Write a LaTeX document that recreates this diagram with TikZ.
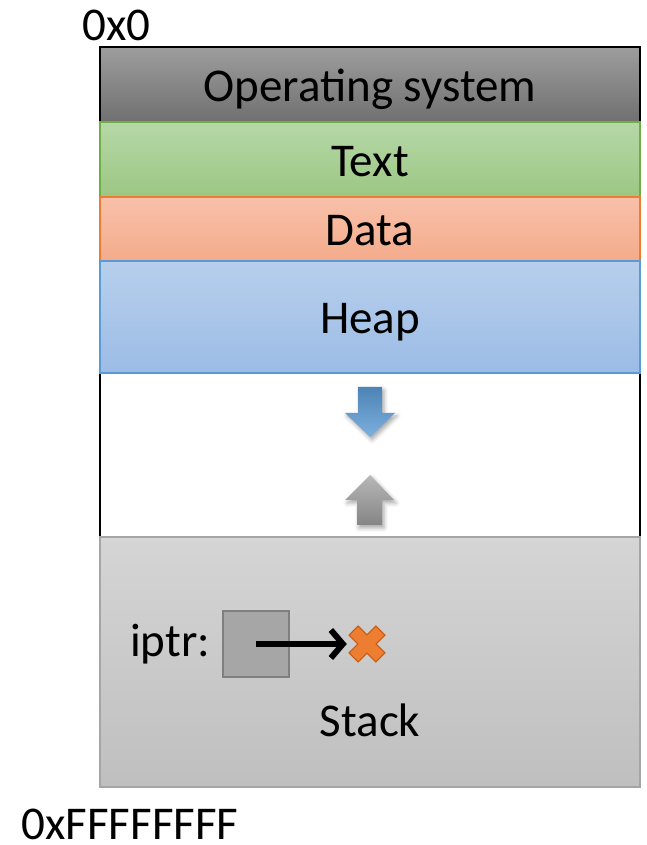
\documentclass[tikz,border=0pt]{standalone}
\usepackage{fontspec}
\setmainfont{Carlito}
\usepackage{tikz}
\usetikzlibrary{
    arrows.meta,
    positioning,
    shadows.blur
}
\definecolor{osTop}{HTML}{9D9D9D}
\definecolor{osBottom}{HTML}{707070}
\definecolor{textTop}{HTML}{B6D8A8}
\definecolor{textBottom}{HTML}{9BC783}
\definecolor{textEdge}{HTML}{70AD47}
\definecolor{dataTop}{HTML}{F8C1AA}
\definecolor{dataBottom}{HTML}{F4AB8B}
\definecolor{dataEdge}{HTML}{ED7D31}
\definecolor{heapTop}{HTML}{B7CFEC}
\definecolor{heapBottom}{HTML}{9CBCE6}
\definecolor{heapEdge}{HTML}{5B9BD5}
\definecolor{stackTop}{HTML}{D5D5D5}
\definecolor{stackBottom}{HTML}{BFBFBF}
\definecolor{stackEdge}{HTML}{A5A5A5}
\definecolor{cellFill}{HTML}{A6A6A6}
\definecolor{cellEdge}{HTML}{7F7F7F}
\definecolor{missFill}{HTML}{ED7D31}
\definecolor{missEdge}{HTML}{C55A11}
\newcommand{\memfont}{\fontsize{47}{56}\selectfont}
\tikzset{
    % One region of the address space
    band/.style={
        rectangle,
        minimum width=540pt,
        inner sep=0pt,
        outer sep=0pt,
        line width=2pt,
        text height=34pt,
        text depth=0pt,
        font=\memfont,
    },
    % Plain text labels
    label text/.style={
        inner sep=0pt,
        font=\memfont,
    },
    % Block arrows showing heap and stack growth
    grow arrow/.style={
        blur shadow={
            shadow xshift=2pt,
            shadow yshift=-3pt,
            shadow blur radius=4pt,
            shadow opacity=35
        },
    },
    % Pointer arrow
    pointer/.style={
        -{Straight Barb[length=12pt, width=28pt, line width=6pt]},
        line width=6pt,
    },
}

\begin{document}
\begin{tikzpicture}[x=1pt, y=1pt]
    \useasboundingbox (0,0) rectangle (647,845);

    % outer frame round the whole space
    \draw [line width=2.5pt] (100,308) rectangle (640,798);

    \node (os) [band, minimum height=75pt, draw=black,
        top color=osTop, bottom color=osBottom] at (370,760.5) {Operating system};
    \node (text) [band, minimum height=75pt, draw=textEdge,
        top color=textTop, bottom color=textBottom, below=0pt of os] {Text};
    \node (data) [band, minimum height=64pt, draw=dataEdge,
        top color=dataTop, bottom color=dataBottom, below=0pt of text] {Data};
    \node (heap) [band, minimum height=112pt, draw=heapEdge,
        top color=heapTop, bottom color=heapBottom, below=0pt of data] {Heap};
    \node (stack) [band, minimum height=250pt, draw=stackEdge, line width=2.5pt,
        top color=stackTop, bottom color=stackBottom, below=164pt of heap] {};

    % growth arrows
    \coordinate (heaptip) at (370,408);
    \coordinate (stacktip) at (370,370);
    \path [grow arrow, top color=heapEdge!85!black, bottom color=heapEdge!80!white]
        (heaptip) -- ++(25,24) -- ++(-13,0) -- ++(0,26) -- ++(-24,0)
        -- ++(0,-26) -- ++(-13,0) -- cycle;
    \path [grow arrow, top color=black!28, bottom color=black!48]
        (stacktip) -- ++(24,-25) -- ++(-12,0) -- ++(0,-25) -- ++(-25,0)
        -- ++(0,25) -- ++(-12,0) -- cycle;

    % dangling pointer on the stack
    \node (cell) [draw=cellEdge, fill=cellFill, line width=1.5pt,
        minimum size=66pt, inner sep=0pt] at (256,201) {};
    \node (iptr) [label text, left=12pt of cell] {iptr:};
    \node (hit) [minimum size=40pt, inner sep=0pt] at (367,201) {};
    \begin{scope}[shift={(hit)}, rotate=45]
        \path [fill=missFill, draw=missEdge, line width=1pt]
            (6.5,19) -- (6.5,6.5) -- (19,6.5) -- (19,-6.5) -- (6.5,-6.5)
            -- (6.5,-19) -- (-6.5,-19) -- (-6.5,-6.5) -- (-19,-6.5)
            -- (-19,6.5) -- (-6.5,6.5) -- (-6.5,19) -- cycle;
    \end{scope}
    \draw [pointer] (cell.center) -- (hit.west);
    \node (stacklbl) [label text] at (370,125) {Stack};

    % address labels
    \node (low) [label text] at (116.5,820) {0x0};
    \node (high) [label text] at (130,21) {0xFFFFFFFF};
\end{tikzpicture}
\end{document}
